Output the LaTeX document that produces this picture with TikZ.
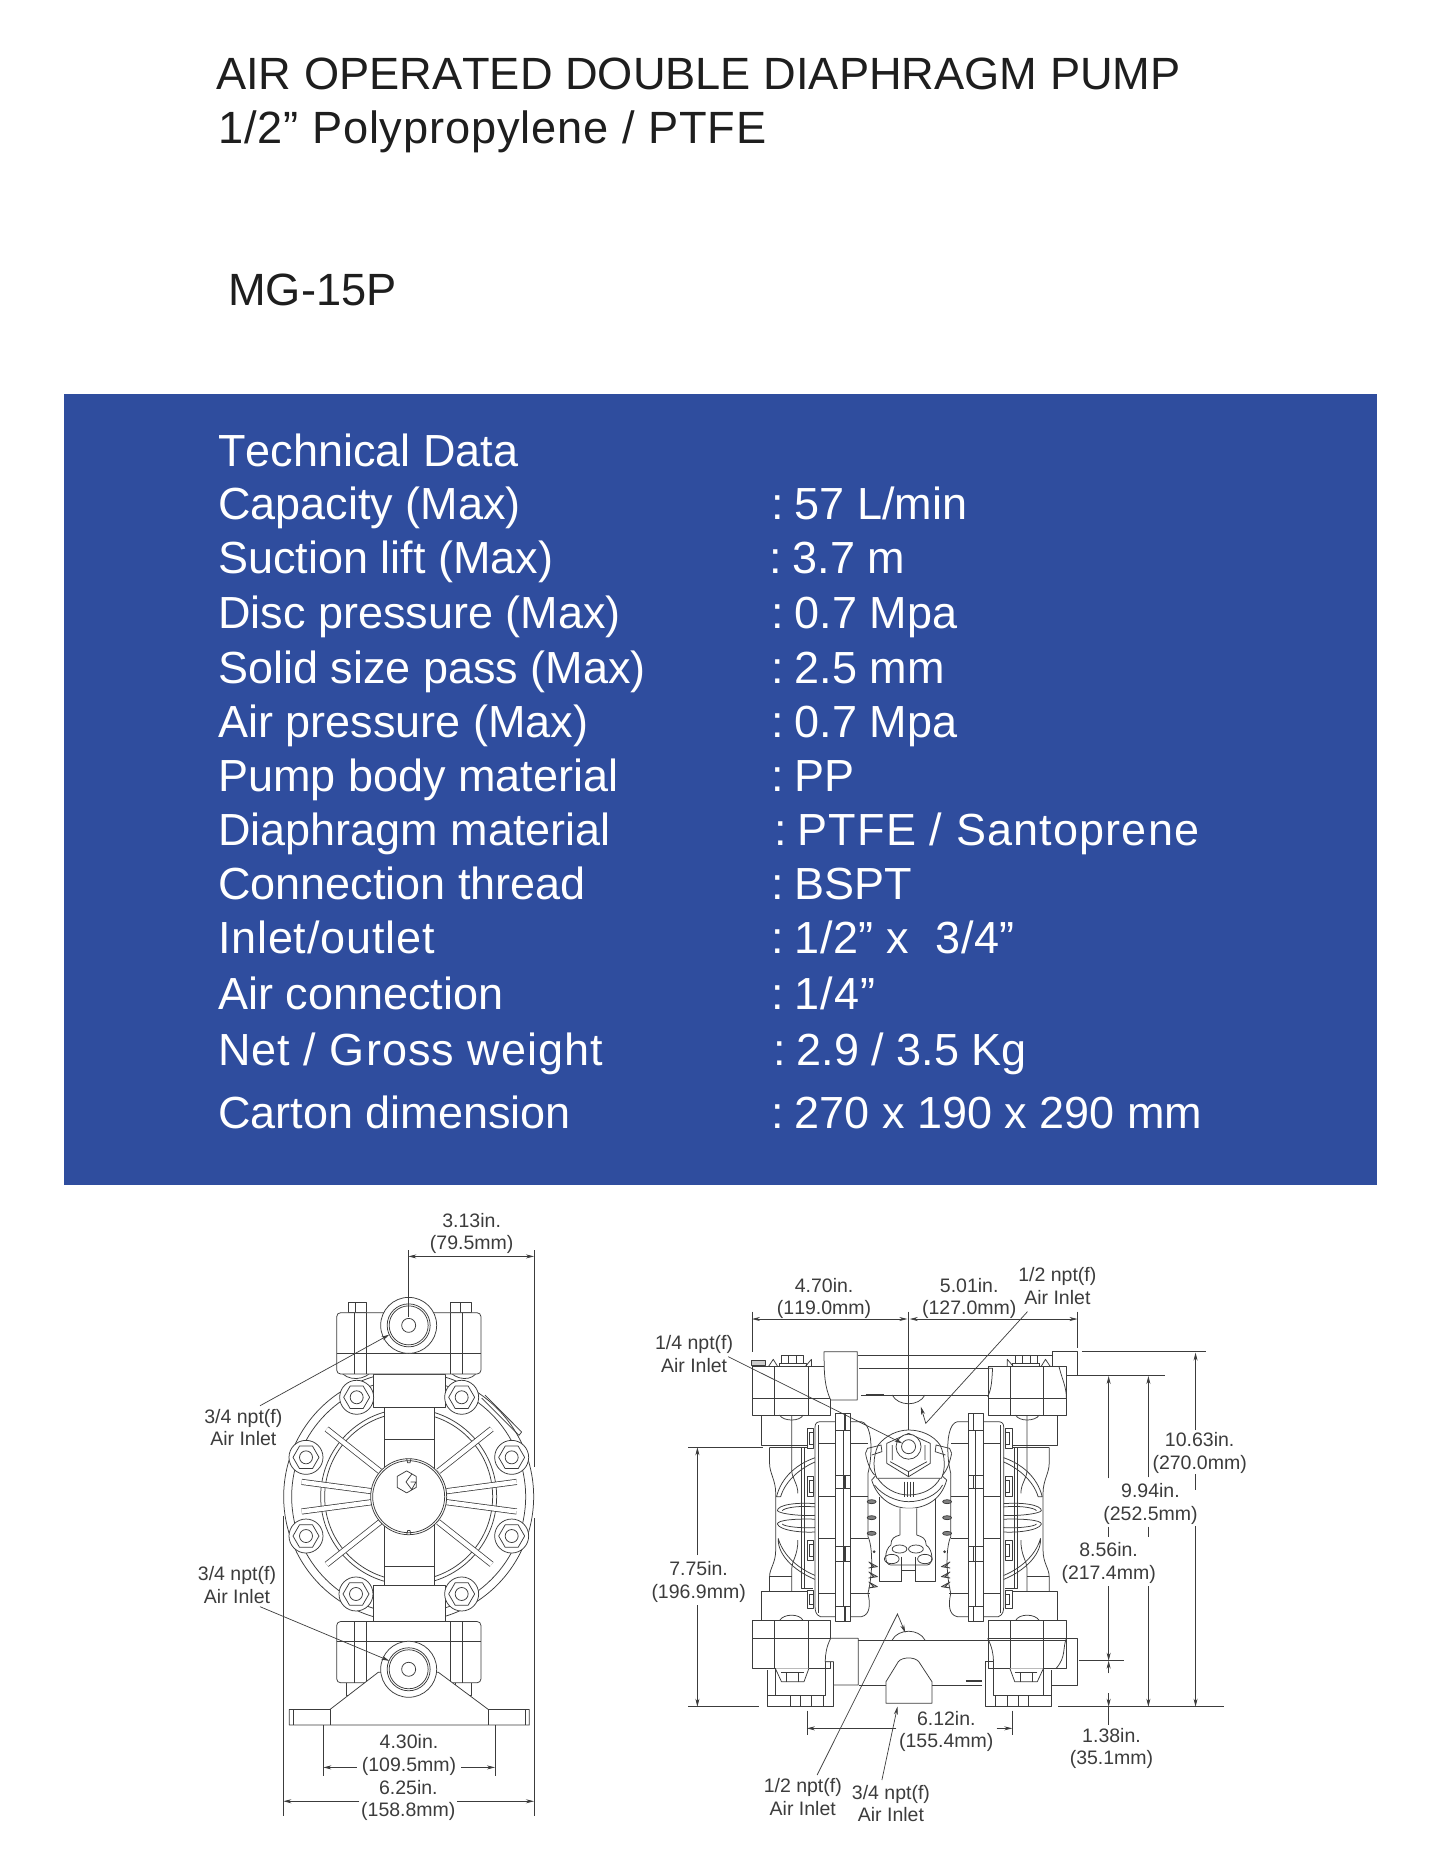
\documentclass[tikz,border=0pt]{standalone}
\usepackage{fontspec}
\setmainfont[Kerning=Off]{Liberation Sans}
\usetikzlibrary{arrows.meta}
\definecolor{panelblue}{RGB}{47,77,158}
\definecolor{inkc}{RGB}{60,60,60}
\definecolor{titlec}{RGB}{30,30,30}
\tikzset{
  ln/.style={draw=inkc,line width=0.75pt,line join=round},
  hv/.style={draw=inkc,line width=1.2pt},
  dim/.style={draw=inkc,line width=0.7pt},
  ar/.style={dim,-{Stealth[length=8pt,width=4pt]}},
  arb/.style={dim,{Stealth[length=8pt,width=4pt]}-{Stealth[length=8pt,width=4pt]}},
  titletxt/.style={anchor=base west,inner sep=0,text=titlec,font=\fontsize{45.2}{50}\selectfont},
  datatxt/.style={anchor=base west,inner sep=0,text=white,font=\fontsize{45}{50}\selectfont},
  lab/.style={inner sep=0,align=center,text=inkc,font=\fontsize{19.5}{22.5}\selectfont},
}
\newcommand{\cln}{:\hspace{11pt}}
\newcommand{\spaced}[2]{{\addfontfeature{LetterSpace=#1}#2}}
\newcommand{\hexbolt}[2]{%
  \draw[ln,fill=white] (#1,#2) circle[radius=17pt];
  \draw[ln] ([shift={(0:13pt)}]#1,#2)--([shift={(60:13pt)}]#1,#2)--([shift={(120:13pt)}]#1,#2)--([shift={(180:13pt)}]#1,#2)--([shift={(240:13pt)}]#1,#2)--([shift={(300:13pt)}]#1,#2)--cycle;
  \draw[ln] (#1,#2) circle[radius=6.5pt];
}
\newcommand{\portc}[2]{%
  \draw[ln,fill=white] (#1,#2) circle[radius=28pt];
  \draw[ln] (#1,#2) circle[radius=21.5pt];
  \draw[ln] (#1,#2) circle[radius=19.5pt];
  \draw[ln] (#1,#2) circle[radius=7pt];
}
\newcommand{\halfpump}{%
  % necks and rear column
  \draw[ln] (297,525)--(297,615)--(423,615) (316,622)--(423,622);
  \draw[ln] (297,1142)--(297,1055)--(423,1055);
  \draw[ln] (316,622)--(316,670) .. controls (316,700) and (331,720) .. (331,760)--(331,930) .. controls (331,970) and (316,985) .. (316,1010)--(316,1055);
  \draw[ln] (316,1010)--(370,1010);
  \draw[ln] (370,525)--(370,690) .. controls (370,715) and (385,730) .. (385,760) (385,900) .. controls (385,950) and (370,960) .. (370,990)--(370,1055);
  \draw[ln] (393,622)--(393,1045)--(423,1045) (401,622)--(401,1045);
  % diaphragm arcs
  \draw[ln] (435,650) .. controls (385,668) and (345,710) .. (333,770)--(343,770) .. controls (355,720) and (395,680) .. (435,662);
  \draw[ln] (337,895) .. controls (350,950) and (390,990) .. (435,1010)--(435,1022) .. controls (385,1000) and (335,950) .. (337,895);
  \draw[ln] (437,792) .. controls (380,785) and (335,795) .. (335,812) .. controls (340,822) and (400,830) .. (437,825);
  \draw[ln] (437,802) .. controls (390,795) and (352,803) .. (347,812);
  \draw[ln] (437,838) .. controls (380,835) and (335,840) .. (335,852) .. controls (340,872) and (400,880) .. (437,875);
  \draw[ln] (437,862) .. controls (395,866) and (352,860) .. (347,852);
  % plate
  \draw[ln,fill=white] (440,545)--(540,545) .. controls (560,550) and (565,600) .. (563,640) .. controls (562,670) and (558,690) .. (556,700)
     --(556,890) .. controls (568,920) and (568,1000) .. (556,1060) .. controls (562,1090) and (562,1125) .. (540,1130)--(440,1130)
     .. controls (428,1125) and (427,1110) .. (427,1100)--(427,560) .. controls (427,550) and (432,545) .. (440,545)--cycle;
  \draw[ln] (435,555)--(435,1120);
  \draw[ln] (435,610)--(556,610) (435,770)--(556,770) (435,895)--(556,895) (435,1060)--(560,1060);
  \draw[ln,fill=white] (477,520) rectangle (514,1145);
  \draw[ln] (477,570)--(514,570) (477,705)--(514,705) (477,745)--(514,745) (477,920)--(514,920) (477,965)--(514,965) (477,1100)--(514,1100);
  \draw[hv] (500,520)--(500,570) (500,705)--(500,745) (500,920)--(500,965) (500,1100)--(500,1145);
  \draw[ln] (496,570)--(496,1100);
  \foreach \ya/\yb in {565/625,710/770,900/960,1050/1105}
    {\draw[ln,fill=white] (407,\ya) rectangle (424,\yb);
     \draw[ln] (412,\ya+12)--(424,\ya+12) (412,\yb-12)--(424,\yb-12) (412,\ya+12)--(412,\yb-12);}
  % springs
  \foreach \yy in {785,833,880}
    {\draw[ln,fill=gray] (565,\yy) ellipse[x radius=11,y radius=6];}
  \fill[inkc] (571,935) circle[radius=1.5pt];
  \foreach \yy in {980,1010,1040}
    {\draw[ln,fill=gray!60] (558,\yy-14)--(579,\yy)--(558,\yy+4)--(570,\yy)--cycle;}
  % upper block
  \draw[ln,fill=white] (274,380) rectangle (465,525);
  \draw[hv] (274,476)--(465,476) (329,380)--(329,525) (411,380)--(411,525);
  \draw[ln,fill=white] (346,345) rectangle (398,370);
  \draw[ln] (362,345)--(362,370) (382,345)--(382,370) (340,370)--(405,370)--(405,380) (340,370)--(340,380);
  \draw[ln] (313,380)--(325,358)--(336,380) (403,380)--(418,358)--(418,380);
  \draw[ln] (340,525) .. controls (350,545) and (390,545) .. (398,525);
  % lower block
  \draw[ln] (340,1142) .. controls (350,1120) and (390,1120) .. (398,1142);
  \draw[ln,fill=white] (274,1142)--(465,1142)--(465,1285)--(274,1285)--cycle;
  \draw[hv] (274,1195)--(465,1195) (329,1142)--(329,1285) (411,1142)--(411,1285);
  \draw[ln,fill=white] (330,1285)--(345,1325)--(400,1325)--(412,1285);
  \draw[ln] (345,1297)--(400,1297) (358,1297)--(358,1325) (386,1297)--(386,1325);
  % foot
  \draw[ln] (310,1290)--(310,1400)--(472,1400)--(472,1265)--(452,1265)--(452,1365)--(310,1365);
  \draw[ln] (330,1285)--(330,1365);
  \draw[ln] (367,1365)--(367,1400) (392,1365)--(392,1400) (418,1365)--(418,1400) (447,1365)--(447,1400);
}
\begin{document}
\begin{tikzpicture}[x=1pt,y=-1pt]
\useasboundingbox (0,0) rectangle (1434,1872);
\fill[white] (0,0) rectangle (1434,1872);
\node[titletxt] (t1) at (216,89) {AIR OPERATED DOUBLE DIAPHRAGM PUMP};
\node[titletxt] (t2) at (218,143) {\spaced{1.9}{1/2” Polypropylene / PTFE}};
\node[titletxt] (t3) at (228,305) {MG-15P};
\fill[panelblue] (64,394) rectangle (1377,1185);
\node[datatxt] (h0) at (218,466) {Technical Data};
\node[datatxt] (a1) at (218,519) {Capacity (Max)};
\node[datatxt] (a2) at (218,573) {Suction lift (Max)};
\node[datatxt] (a3) at (218,628) {Disc pressure (Max)};
\node[datatxt] (a4) at (218,683) {Solid size pass (Max)};
\node[datatxt] (a5) at (218,737) {Air pressure (Max)};
\node[datatxt] (a6) at (218,791) {Pump body material};
\node[datatxt] (a7) at (218,845) {Diaphragm material};
\node[datatxt] (a8) at (218,899) {Connection thread};
\node[datatxt] (a9) at (218,953) {\spaced{1.8}{Inlet/outlet}};
\node[datatxt] (a10) at (218,1009) {Air connection};
\node[datatxt] (a11) at (218,1065) {\spaced{2.35}{Net / Gross weight}};
\node[datatxt] (a12) at (218,1128) {Carton dimension};
\node[datatxt] (b1) at (771,519) {\cln 57 L/min};
\node[datatxt] (b2) at (769,573) {\cln 3.7 m};
\node[datatxt] (b3) at (771,628) {\cln 0.7 Mpa};
\node[datatxt] (b4) at (771,683) {\cln 2.5 mm};
\node[datatxt] (b5) at (771,737) {\cln 0.7 Mpa};
\node[datatxt] (b6) at (771,791) {\cln PP};
\node[datatxt] (b7) at (774,845) {\cln \spaced{2.6}{PTFE / Santoprene}};
\node[datatxt] (b8) at (771,899) {\cln BSPT};
\node[datatxt] (b9) at (771,953) {\cln \spaced{1.2}{1/2” x\ \ 3/4”}};
\node[datatxt] (b10) at (771,1009) {\cln \spaced{2.5}{1/4”}};
\node[datatxt] (b11) at (773,1065) {\cln 2.9 / 3.5 Kg};
\node[datatxt] (b12) at (771,1128) {\cln 270 x 190 x 290 mm};

% ---------- front view
\begin{scope}[shift={(180,1190)},x=0.33333pt,y=-0.423pt]
  \draw[ln,fill=white] (686,725) circle[radius=125pt];
  \draw[ln] (686,725) circle[radius=117pt];
  \draw[ln] (686,725) circle[radius=88pt];
  \draw[ln] (686,725) circle[radius=84pt];
  \draw[ln] (915,485)--(1025,572)--(1017,580)--(905,492);
  \foreach \ax/\ay/\bx/\by in {440/565/600/665,935/565/775/665,440/885/600/785,935/885/775/785,365/690/575/712,365/760/575/738,1010/690/800/712,1010/760/800/738}
    {\draw[draw=inkc,line width=0.75pt,double=white,double distance=4.5pt] (\ax,\ay)--(\bx,\by);}
  \draw[ln,fill=white] (612,510) rectangle (762,935);
  \draw[ln] (612,590)--(762,590) (612,890)--(762,890);
  \draw[ln,fill=white] (686,725) circle[radius=38pt];
  \draw[ln] (686,725) circle[radius=36pt];
  \draw[ln] (680,635)--(683,645)--(690,645)--(693,635) (680,815)--(683,805)--(690,805)--(693,815);
  \draw[ln] ([shift={(30:11pt)}]680,690)--([shift={(90:11pt)}]680,690)--([shift={(150:11pt)}]680,690)--([shift={(210:11pt)}]680,690)--([shift={(270:11pt)}]680,690)--([shift={(330:11pt)}]680,690)--cycle;
  \draw[ln] (695,672)--(678,690)--(695,708)--(708,690)--(692,690);
  \draw[ln,fill=white] (580,435) rectangle (795,515);
  \draw[ln,fill=white] (580,935) rectangle (795,1020);
  \draw[ln,fill=white] (505,265) rectangle (560,290);
  \draw[ln,fill=white] (810,265) rectangle (875,290);
  \draw[ln] (527,265)--(527,290) (840,265)--(840,290);
  \draw[ln,fill=white] (478,425) .. controls (500,455) and (560,450) .. (578,425);
  \draw[ln,fill=white] (805,425) .. controls (825,450) and (880,455) .. (895,425);
  \draw[ln,fill=white,rounded corners=4pt] (470,290) rectangle (903,435);
  \draw[ln] (470,385)--(903,385) (522,290)--(522,435) (558,290)--(558,435) (810,290)--(810,435) (848,290)--(848,435);
  \portc{686}{320}
  \foreach \hx/\hy in {530/490,845/490,378/632,995/632,378/818,995/818,528/955,845/955}
    {\hexbolt{\hx}{\hy}}
  \draw[ln,fill=white] (500,1160) rectangle (550,1195);
  \draw[ln,fill=white] (825,1160) rectangle (875,1195);
  \draw[ln,fill=white,rounded corners=4pt] (470,1020) rectangle (903,1165);
  \draw[ln] (470,1068)--(903,1068) (522,1020)--(522,1165) (558,1020)--(558,1165) (810,1020)--(810,1165) (848,1020)--(848,1165);
  \draw[ln,fill=white] (328,1228)--(450,1228)--(595,1140)--(775,1140)--(925,1228)--(1048,1228)--(1048,1265)--(328,1265)--cycle;
  \draw[ln] (450,1228)--(450,1265) (925,1228)--(925,1265) (340,1228)--(340,1265) (1036,1228)--(1036,1265);
  \portc{686}{1133}
  \coordinate (f1) at (685,157); \coordinate (f2) at (1062,157);
  \draw[dim] (685,142)--(685,300);
  \draw[dim] (1062,142)--(1062,655);
  \draw[dim] (1062,775)--(1062,1480);
  \draw[dim] (310,770)--(310,1480);
  \draw[arb] (f1)--(f2);
  \node[lab] (d1) at (875,103) {3.13in.\\(79.5mm)};
  \draw[dim] (430,1265)--(430,1385) (945,1265)--(945,1385);
  \node[lab] (d2) at (687,1335) {4.30in.\\(109.5mm)};
  \coordinate (g1) at (430,1365); \coordinate (g2) at (945,1365);
  \draw[ar] (d2.west |- g1) ++(-15,0) -- (g1);
  \draw[ar] (d2.east |- g2) ++(15,0) -- (g2);
  \node[lab] (d3) at (685,1443) {6.25in.\\(158.8mm)};
  \coordinate (h1) at (310,1445); \coordinate (h2) at (1062,1445);
  \draw[ar] (d3.west |- h1) ++(-5,0) -- (h1);
  \draw[ar] (d3.east |- h2) ++(5,0) -- (h2);
  \node[lab] (n1) at (190,561) {3/4 npt(f)\\Air Inlet};
  \node[lab] (n2) at (171,934) {3/4 npt(f)\\Air Inlet};
  \coordinate (p1) at (628,342); \coordinate (p2) at (628,1113);
  \coordinate (q1) at (240,510); \coordinate (q2) at (240,985);
  \draw[ar] (q1)--(p1);
  \draw[ar] (q2)--(p2);
\end{scope}

% ---------- side view
\begin{scope}[shift={(640,1240)},x=0.41pt,y=-0.33333pt]
  \halfpump
  \begin{scope}[xscale=-1,shift={(-1314,0)}]
    \halfpump
  \end{scope}
  \draw[ln,fill=gray!40] (272,360) rectangle (305,375);
  % top manifold
  \draw[ln] (532,345)--(1005,345) (535,385)--(850,385) (540,465)--(850,465);
  \draw[ln,fill=white] (465,480) .. controls (450,440) and (449,400) .. (449,345)--(449,335)--(530,335)--(530,480)--cycle;
  \draw[hv] (550,465)--(595,465);
  \draw[ln] (848,385)--(860,385) .. controls (858,420) and (858,445) .. (848,470);
  \draw[ln] (615,465) .. controls (630,500) and (680,500) .. (695,465);
  \draw[ln] (1005,335)--(1067,335)--(1067,405)--(1040,405);
  \draw[ln] (1005,335)--(1005,380);
  \draw[ln] (1022,380) .. controls (1030,420) and (1040,440) .. (1040,476);
  % bottom manifold
  \draw[ln] (532,1200)--(1040,1200) (535,1335)--(600,1335) (712,1335)--(835,1335);
  \draw[hv] (795,1323)--(835,1323);
  \draw[ln,fill=white] (465,1195) .. controls (455,1220) and (452,1240) .. (452,1265)--(472,1265)--(472,1335)--(532,1335)--(532,1195)--cycle;
  \draw[ln] (848,1195) .. controls (858,1220) and (862,1240) .. (862,1265);
  \draw[ln] (1040,1195)--(1067,1195)--(1067,1335)--(1005,1335);
  \draw[ln] (1040,1195) .. controls (1030,1225) and (1040,1250) .. (1015,1285);
  \draw[ln] (615,1200) .. controls (630,1165) and (680,1165) .. (695,1200);
  \draw[ln,fill=white] (600,1390)--(600,1325)--(630,1265) .. controls (640,1250) and (670,1250) .. (680,1265)--(712,1325)--(712,1390)--cycle;
  % central valve
  \draw[ln] (585,770)--(585,1025)--(638,1025) (720,770)--(720,1025)--(671,1025);
  \draw[ln,fill=white] (565,720) .. controls (580,780) and (620,805) .. (655,805) .. controls (695,805) and (735,780) .. (748,720)--(730,700)--(580,700)--cycle;
  \draw[ln] (572,735) .. controls (590,765) and (625,785) .. (655,785) .. controls (690,785) and (725,765) .. (738,735);
  \draw[ln] (578,712) .. controls (595,745) and (625,765) .. (655,765) .. controls (690,765) and (720,745) .. (733,712);
  \draw[ln,fill=white] (581,615) .. controls (600,585) and (630,570) .. (655,570) .. controls (685,570) and (715,585) .. (732,615) .. controls (745,650) and (745,690) .. (735,715)--(578,715) .. controls (568,690) and (568,650) .. (581,615)--cycle;
  \draw[ln] (550,640) .. controls (553,660) and (560,690) .. (572,705) (760,640) .. controls (757,660) and (750,690) .. (738,705);
  \draw[ln] (550,640)--(555,625)--(588,615)--(590,635)--(565,645) (760,640)--(755,625)--(722,615)--(720,635)--(745,645);
  \draw[ln] (655,580)--(708,610)--(708,670)--(655,710)--(602,670)--(602,610)--cycle;
  \draw[ln] (610,665)--(655,695)--(700,665) (655,695)--(655,710) (615,615)--(615,660) (695,615)--(695,660);
  \draw[ln,fill=white] (655,620) circle[radius=12.5pt];
  \draw[ln] (655,620) circle[radius=7pt];
  \draw[ln] (644,725)--(644,770) (652,725)--(652,770) (660,725)--(660,770) (667,725)--(667,770);
  \draw[ln,fill=white] (634,805)--(634,885) .. controls (620,890) and (612,895) .. (612,915) .. controls (595,930) and (595,975) .. (612,975)--(700,975) .. controls (716,975) and (716,930) .. (698,915) .. controls (698,895) and (688,890) .. (675,885)--(675,805);
  \draw[ln] (633,927) ellipse[x radius=18,y radius=12];
  \draw[ln] (673,927) ellipse[x radius=18,y radius=12];
  \draw[ln] (614,957) ellipse[x radius=18,y radius=14];
  \draw[ln] (695,957) ellipse[x radius=18,y radius=14];
  \draw[ln] (638,950)--(638,1025) (671,950)--(671,1025) (638,990)--(671,990);
  % dimensions top
  \draw[dim] (273,215)--(273,335) (655,215)--(655,570) (1067,215)--(1067,325);
  \coordinate (r1) at (273,237); \coordinate (r2) at (652,237);
  \coordinate (r3) at (658,237); \coordinate (r4) at (1067,237);
  \draw[arb] (r1)--(r2);
  \draw[arb] (r3)--(r4);
  \node[lab] (e1) at (449,175) {4.70in.\\(119.0mm)};
  \node[lab] (e2) at (803,175) {5.01in.\\(127.0mm)};
  % right dims
  \coordinate (s1) at (1355,338); \coordinate (s2) at (1355,1400);
  \coordinate (u1) at (1240,408); \coordinate (u2) at (1240,1400);
  \coordinate (v1) at (1143,408); \coordinate (v2) at (1143,1262);
  \coordinate (w1) at (1143,1262); \coordinate (w2) at (1143,1400);
  \coordinate (z1) at (140,622); \coordinate (z2) at (140,1400);
  \draw[dim] (1078,335)--(1380,335) (1067,405)--(1280,405) (118,622)--(300,622);
  \draw[dim] (118,1400)--(290,1400) (1020,1400)--(1425,1400);
  \draw[dim] (1070,1262)--(1180,1262);
  \node[lab] (e3) at (1365,639) {10.63in.\\(270.0mm)};
  \node[lab] (e4) at (1245,792) {9.94in.\\(252.5mm)};
  \node[lab] (e5) at (1143,969) {8.56in.\\(217.4mm)};
  \node[lab] (e6) at (143,1026) {7.75in.\\(196.9mm)};
  \draw[ar] (1355,570)--(s1);
  \draw[dim] (1355,702)--(1355,750);
  \draw[ar] (1355,858)--(s2);
  \draw[ar] (1240,712)--(u1);
  \draw[dim] (1240,860)--(1240,892);
  \draw[ar] (1240,1038)--(u2);
  \draw[ar] (1143,715)--(1143,408);
  \draw[dim] (1143,860)--(1143,892);
  \draw[ar] (1143,1038)--(v2);
  \draw[ar] (1143,1300)--(w1);
  \draw[ar] (1143,1360)--(w2);
  \draw[dim] (1143,1400)--(1143,1455);
  \draw[ar] (140,945)--(z1);
  \draw[ar] (140,1095)--(z2);
  \coordinate (k1) at (407,1465); \coordinate (k2) at (908,1465);
  \draw[dim] (407,1412)--(407,1485) (908,1412)--(908,1485);
  \node[lab] (e7) at (747,1475) {6.12in.\\(155.4mm)};
  \draw[ar] (625,1465)--(k1);
  \draw[ar] (870,1465)--(k2);
  \node[lab] (e8) at (1150,1525) {1.38in.\\(35.1mm)};
  % leaders
  \node[lab] (m1) at (132,342) {1/4 npt(f)\\Air Inlet};
  \node[lab] (m2) at (1018,138) {1/2 npt(f)\\Air Inlet};
  \node[lab] (m3) at (397,1671) {1/2 npt(f)\\Air Inlet};
  \node[lab] (m4) at (612,1690) {3/4 npt(f)\\Air Inlet};
  \coordinate (c1) at (215,350); \coordinate (c2) at (640,610);
  \draw[ar] (c1)--(c2);
  \coordinate (c3) at (945,215); \coordinate (c4) at (697,550); \coordinate (c5) at (685,500);
  \draw[ar] (c3)--(c4)--(c5);
  \coordinate (c6) at (432,1605); \coordinate (c7) at (628,1122); \coordinate (c8) at (647,1178);
  \draw[ar] (c6)--(c7)--(c8);
  \coordinate (c9) at (590,1620); \coordinate (c10) at (628,1400);
  \draw[ar] (c9)--(c10);
\end{scope}
\end{tikzpicture}
\end{document}
